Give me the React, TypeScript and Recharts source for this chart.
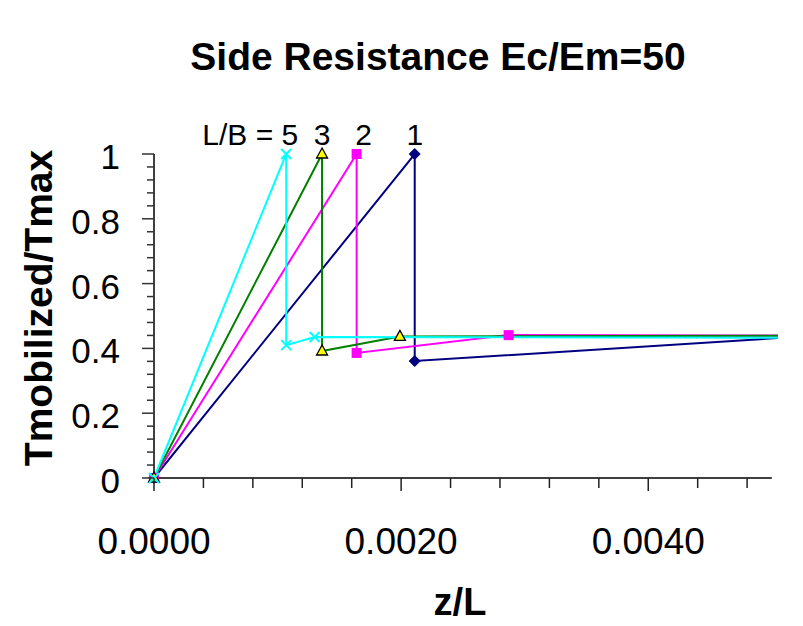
import React from 'react';
import { LineChart, Line, XAxis, YAxis, ReferenceLine, ReferenceDot, Customized } from 'recharts';

// ---- data ----
const lb1X = [0, 0.00211, 0.00211, 0.00505];
const lb1Y = [0, 1, 0.361, 0.432];
const lb2X = [0, 0.00164, 0.00164, 0.00287, 0.00505];
const lb2Y = [0, 1, 0.386, 0.441, 0.44];
const lb3X = [0, 0.00136, 0.00136, 0.00199, 0.00505];
const lb3Y = [0, 1, 0.392, 0.437, 0.439];
const lb5X = [0, 0.00107, 0.00107, 0.0013, 0.00505];
const lb5Y = [0, 1, 0.41, 0.435, 0.433];

const xTicks = [0, 0.0004, 0.0008, 0.0012, 0.0016, 0.002, 0.0024, 0.0028, 0.0032, 0.0036, 0.004, 0.0044, 0.0048];
const xMajorTicks = [0, 0.002, 0.004];
const xTickLabels = ['0.0000', '0.0020', '0.0040'];
const yTicks = [0, 0.04, 0.08, 0.12, 0.16, 0.2, 0.24, 0.28, 0.32, 0.36, 0.4, 0.44, 0.48, 0.52, 0.56, 0.6, 0.64, 0.68, 0.72, 0.76, 0.8, 0.84, 0.88, 0.92, 0.96, 1];
const yMajorTicks = [0, 0.2, 0.4, 0.6, 0.8, 1];
const yTickLabels = ['0', '0.2', '0.4', '0.6', '0.8', '1'];

const title = 'Side Resistance Ec/Em=50';
const xLabel = 'z/L';
const yLabel = 'Tmobilized/Tmax';

const toPoints = (xs: number[], ys: number[]) => xs.map((x, i) => ({ x, y: ys[i] }));
const s1 = toPoints(lb1X, lb1Y);
const s2 = toPoints(lb2X, lb2Y);
const s3 = toPoints(lb3X, lb3Y);
const s5 = toPoints(lb5X, lb5Y);

const FONT = '"Liberation Sans", Arial, sans-serif';

const majorIndex = (v: number, majors: number[]) => majors.findIndex((m) => Math.abs(m - v) < 1e-9);

const XTick = (props: any) => {
  const { x, y, payload } = props;
  const mi = majorIndex(payload.value, xMajorTicks);
  const major = mi >= 0;
  return (
    <g>
      <line x1={x} x2={x} y1={y} y2={y + (major ? 13 : 10)} stroke="#222" strokeWidth={1.5} />
      {major && (
        <text x={x} y={y + 76} textAnchor="middle" fontFamily={FONT} fontSize={37} fill="#000">
          {xTickLabels[mi]}
        </text>
      )}
    </g>
  );
};

const YTick = (props: any) => {
  const { x, y, payload } = props;
  const mi = majorIndex(payload.value, yMajorTicks);
  const major = mi >= 0;
  return (
    <g>
      <line x1={x} x2={x - (major ? 12 : 7)} y1={y} y2={y} stroke="#333" strokeWidth={1.5} />
      {major && (
        <text x={x - 34} y={y + 15} textAnchor="end" fontFamily={FONT} fontSize={35} fill="#000">
          {yTickLabels[mi]}
        </text>
      )}
    </g>
  );
};

const lastIdx = (arr: any[]) => arr.length - 1;

const diamondDot = (props: any) => {
  const { cx, cy, index } = props;
  if (index === lastIdx(s1)) return <g key={`d1-${index}`} />;
  const r = 5.5;
  return (
    <path key={`d1-${index}`} d={`M${cx},${cy - r} L${cx + r},${cy} L${cx},${cy + r} L${cx - r},${cy} Z`} fill="#000080" stroke="#000080" />
  );
};
const squareDot = (props: any) => {
  const { cx, cy, index } = props;
  if (index === lastIdx(s2)) return <g key={`d2-${index}`} />;
  return <rect key={`d2-${index}`} x={cx - 5} y={cy - 5} width={10} height={10} fill="#ff00ff" />;
};
const triangleDot = (props: any) => {
  const { cx, cy, index } = props;
  if (index === lastIdx(s3)) return <g key={`d3-${index}`} />;
  return (
    <path key={`d3-${index}`} d={`M${cx},${cy - 6} L${cx + 5.5},${cy + 4} L${cx - 5.5},${cy + 4} Z`} fill="#ffff00" stroke="#000" strokeWidth={1.3} />
  );
};
const crossDot = (props: any) => {
  const { cx, cy, index } = props;
  if (index === lastIdx(s5)) return <g key={`d5-${index}`} />;
  const r = 5;
  return (
    <path key={`d5-${index}`} d={`M${cx - r},${cy - r} L${cx + r},${cy + r} M${cx - r},${cy + r} L${cx + r},${cy - r}`} stroke="#00ffff" strokeWidth={2} fill="none" />
  );
};

const Backdrop = () => (
  <g>
    <rect x={0} y={0} width={803} height={626} fill="#e2c88e" />
    <rect x={3} y={7} width={810} height={640} fill="#fff" stroke="#000" strokeWidth={2} />
    <text x={438} y={70} textAnchor="middle" fontFamily={FONT} fontWeight="bold" fontSize={39} fill="#000">
      {title}
    </text>
  </g>
);

export default function App() {
  return (
    <div style={{ width: 803, height: 626, margin: -8, background: '#e2c88e', borderTop: '0px solid #000' }}>
      <LineChart width={803} height={626} margin={{ top: 154, right: 25, bottom: 88, left: 0 }} style={{ background: '#e2c88e' }}>
        <Customized component={Backdrop} />
        <XAxis
          type="number"
          dataKey="x"
          domain={[0, 0.00505]}
          ticks={xTicks}
          interval={0}
          tickSize={0}
          tickMargin={0}
          tickLine={false}
          axisLine={false}
          tick={<XTick />}
          height={60}
          label={{
            content: () => (
              <text x={460} y={615} textAnchor="middle" fontFamily={FONT} fontWeight="bold" fontSize={38} fill="#000">
                {xLabel}
              </text>
            ),
          }}
        />
        <YAxis
          type="number"
          dataKey="y"
          domain={[0, 1]}
          ticks={yTicks}
          interval={0}
          tickSize={0}
          tickMargin={0}
          tickLine={false}
          axisLine={{ stroke: '#000', strokeWidth: 1.5 }}
          tick={<YTick />}
          width={154}
          label={{
            content: () => (
              <text transform="translate(52,308) rotate(-90)" textAnchor="middle" fontFamily={FONT} fontWeight="bold" fontSize={39} fill="#000">
                {yLabel}
              </text>
            ),
          }}
        />
        <ReferenceLine segment={[{ x: 0, y: 0 }, { x: 0.005, y: 0 }]} stroke="#000" strokeWidth={1.5} />
        <Line data={s1} dataKey="y" type="linear" stroke="#000080" strokeWidth={2} dot={diamondDot} activeDot={false} isAnimationActive={false} />
        <Line data={s2} dataKey="y" type="linear" stroke="#ff00ff" strokeWidth={2} dot={squareDot} activeDot={false} isAnimationActive={false} />
        <Line data={s3} dataKey="y" type="linear" stroke="#008000" strokeWidth={2} dot={triangleDot} activeDot={false} isAnimationActive={false} />
        <Line data={s5} dataKey="y" type="linear" stroke="#00ffff" strokeWidth={2} dot={crossDot} activeDot={false} isAnimationActive={false} />
        <ReferenceDot
          x={lb5X[1]}
          y={1}
          r={0}
          shape={(p: any) => (
            <text x={p.cx + 12} y={p.cy - 9} textAnchor="end" fontFamily={FONT} fontSize={30} fill="#000">
              L/B = 5
            </text>
          )}
        />
        <ReferenceDot
          x={lb3X[1]}
          y={1}
          r={0}
          shape={(p: any) => (
            <text x={p.cx} y={p.cy - 9} textAnchor="middle" fontFamily={FONT} fontSize={30} fill="#000">
              3
            </text>
          )}
        />
        <ReferenceDot
          x={lb2X[1]}
          y={1}
          r={0}
          shape={(p: any) => (
            <text x={p.cx + 7} y={p.cy - 9} textAnchor="middle" fontFamily={FONT} fontSize={30} fill="#000">
              2
            </text>
          )}
        />
        <ReferenceDot
          x={lb1X[1]}
          y={1}
          r={0}
          shape={(p: any) => (
            <text x={p.cx} y={p.cy - 9} textAnchor="middle" fontFamily={FONT} fontSize={30} fill="#000">
              1
            </text>
          )}
        />
      </LineChart>
    </div>
  );
}
